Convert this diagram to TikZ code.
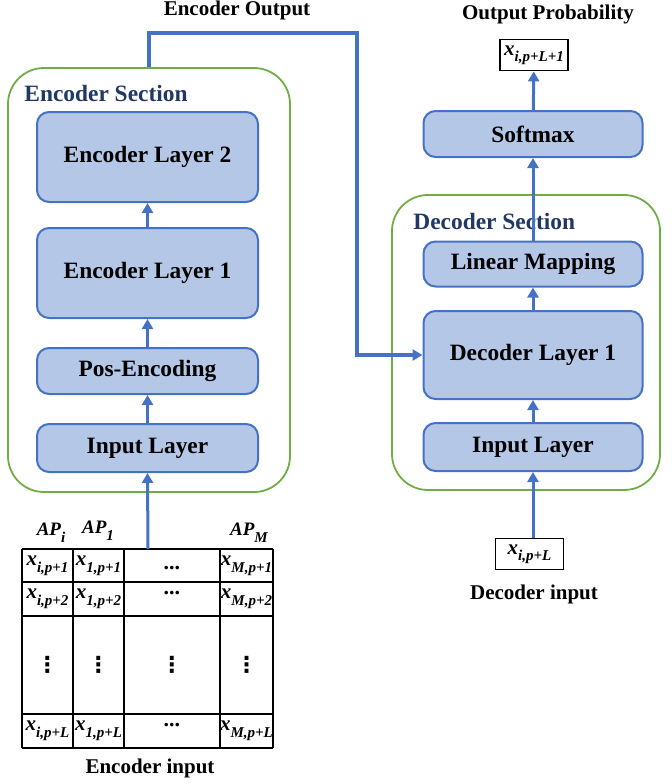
\documentclass[tikz,border=0pt]{standalone}
\usepackage{fontspec}
\setmainfont{Liberation Serif}
\newfontfamily\symfont{DejaVu Sans}
\usetikzlibrary{arrows.meta}
\definecolor{boxfill}{HTML}{B4C7E7}
\definecolor{boxline}{HTML}{4472C4}
\definecolor{secline}{HTML}{70AD47}
\definecolor{sectitle}{HTML}{203864}
\newcommand{\lowsub}[1]{\raisebox{-0.32em}{\fontsize{7.5}{9}\selectfont\bfseries\itshape #1}}
\newcommand{\bx}[1]{{\fontsize{10.5}{12}\selectfont\bfseries\itshape x}\lowsub{#1}}
\newcommand{\bap}[1]{{\fontsize{9.5}{11}\selectfont\bfseries\itshape AP}\lowsub{#1}}
\newcommand{\bvdots}{{\symfont\bfseries ⋮}}
\tikzset{
  layer/.style={draw=boxline, fill=boxfill, line width=1pt, rounded corners=6pt, inner sep=0pt,
    font=\fontsize{11.7}{14}\selectfont\bfseries},
  section/.style={draw=secline, line width=0.9pt, rounded corners=18pt, inner sep=0pt},
  sectitle/.style={anchor=west, inner sep=0pt, text=sectitle, font=\fontsize{11.7}{14}\selectfont\bfseries},
  flow/.style={draw=boxline, line width=1.5pt, -{Triangle[width=5.5pt,length=5pt]}},
  valbox/.style={draw, line width=0.9pt, fill=white, inner sep=0pt, minimum width=34pt, minimum height=15.5pt},
  caption/.style={inner sep=0pt, font=\fontsize{10.5}{12}\selectfont\bfseries},
  cell/.style={inner sep=0pt, font=\fontsize{11}{12}\selectfont\bfseries}
}
\begin{document}
\begin{tikzpicture}[x=0.5pt, y=-0.5pt]
  \useasboundingbox (0,0) rectangle (672,784);

  \node [section, minimum width=141pt, minimum height=212pt] (encsec) at (149,280) {};
  \node [section, minimum width=134pt, minimum height=147.5pt] (decsec) at (526,342.5) {};
  \node [sectitle] (enctitle) at (24,93) {Encoder Section};
  \node [sectitle] (dectitle) at (413,221) {Decoder Section};

  \node [layer, minimum width=110.5pt, minimum height=45pt] (enc2) at (147.5,157) {Encoder Layer 2};
  \node [layer, minimum width=110.5pt, minimum height=45pt] (enc1) at (147.5,273) {Encoder Layer 1};
  \node [layer, minimum width=110.5pt, minimum height=23pt] (pos) at (147.5,371) {Pos-Encoding};
  \node [layer, minimum width=110.5pt, minimum height=24pt] (ein) at (147.5,448) {Input Layer};

  \node [layer, minimum width=109.5pt, minimum height=23pt] (softmax) at (533,134) {Softmax};
  \node [layer, minimum width=109.5pt, minimum height=22.5pt] (linmap) at (533,264) {Linear Mapping};
  \node [layer, minimum width=109.5pt, minimum height=44pt] (dec1) at (533,355) {Decoder Layer 1};
  \node [layer, minimum width=109.5pt, minimum height=24pt] (din) at (533,447) {Input Layer};

  \node [valbox] (outval) at (534,55) {\bx{i,p+L+1}};
  \node [caption] (outcap) at (548,14) {Output Probability};
  \node [valbox] (decval) at (529.5,554) {\bx{i,p+L}};
  \node [caption] (deccap) at (534,594) {Decoder input};
  \node [caption] (enccap) at (237,10) {Encoder Output};
  \node [caption] (inpcap) at (150,768) {Encoder input};

  \draw [flow] (ein) -- (pos);
  \draw [flow] (pos) -- (enc1);
  \draw [flow] (enc1) -- (enc2);
  \draw [flow] (din) -- (dec1);
  \draw [flow] (dec1) -- (linmap);
  \draw [flow] (linmap) -- (softmax);
  \draw [flow] (softmax) -- (outval);
  \draw [flow] (din.south |- decval.north) -- (din.south);

  \coordinate (eoturn) at (357,33);
  \draw [flow, line width=2pt] (encsec.north) |- (eoturn) |- (dec1.west);

  \foreach \x in {22,73,124,220,273} {
    \draw [line width=1pt] (\x,549) -- (\x,748);
  }
  \foreach \y in {549,582,616,714,748} {
    \draw [line width=1pt] (22,\y) -- (273,\y);
  }
  \coordinate (tabtop) at (148,549);
  \draw [flow] (tabtop) -- (ein.south);

  \node [cell] (hdi) at (51,533) {\bap{i}};
  \node [cell] (hdone) at (98,531) {\bap{1}};
  \node [cell] (hdm) at (249,533) {\bap{M}};

  \foreach \c/\xc in {i/47.5,1/98.5,M/246.5} {
    \node [cell] (c\c a) at (\xc,565.5) {\bx{\c,p+1}};
    \node [cell] (c\c b) at (\xc,599) {\bx{\c,p+2}};
    \node [cell] (c\c c) at (\xc,665) {\bvdots};
    \node [cell] (c\c d) at (\xc,731) {\bx{\c,p+L}};
  }
  \node [cell, anchor=base] (cda) at (172,569) {...};
  \node [cell, anchor=base] (cdb) at (172,594) {...};
  \node [cell] (cdc) at (172,665) {\bvdots};
  \node [cell, anchor=base] (cdd) at (172,726) {...};
\end{tikzpicture}
\end{document}
